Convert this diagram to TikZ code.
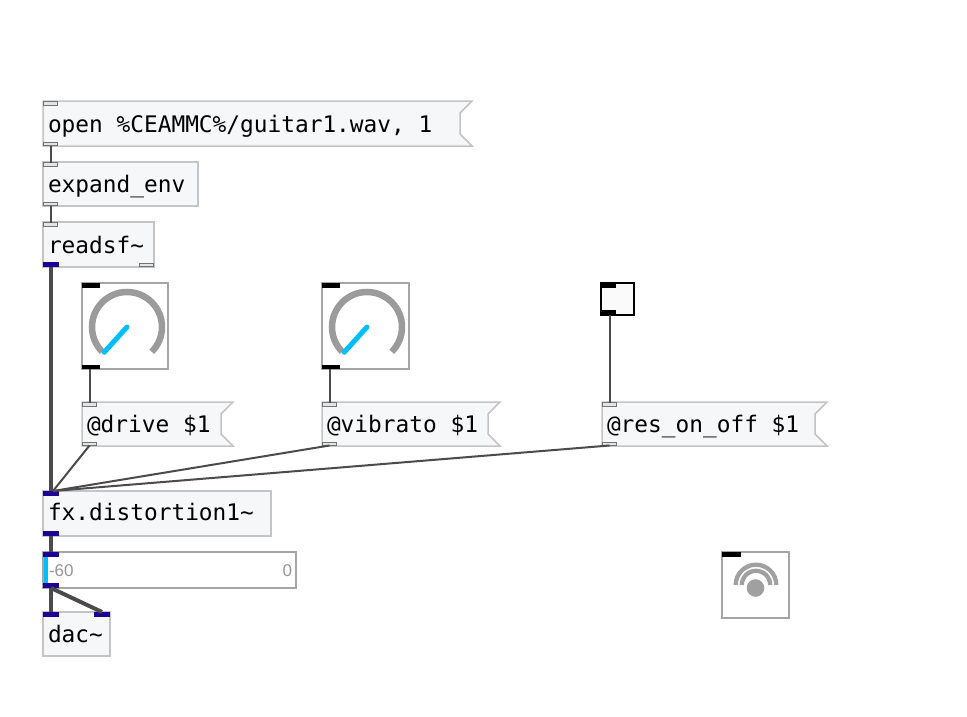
\documentclass[tikz,border=0pt]{standalone}
\usepackage{fontspec}
\newfontfamily\pdmono{DejaVu Sans Mono}
\newfontfamily\pdsans{Liberation Sans}
\definecolor{pdfill}{RGB}{246,247,249}
\definecolor{pdborder}{RGB}{196,196,196}
\definecolor{inletgrey}{RGB}{115,115,115}
\definecolor{inletfill}{RGB}{228,228,228}
\definecolor{sigblue}{RGB}{30,0,150}
\definecolor{wiregrey}{RGB}{75,75,75}
\definecolor{knobgrey}{RGB}{155,155,155}
\definecolor{uiborder}{RGB}{165,165,165}
\definecolor{pdcyan}{RGB}{0,190,250}
\definecolor{lblgrey}{RGB}{150,150,150}
\definecolor{dspgrey}{RGB}{160,160,160}
\begin{document}
\begin{tikzpicture}[x=1pt,y=-1pt,
  box/.style={draw=pdborder, fill=pdfill, line width=1.5pt, rectangle, inner sep=0pt, outer sep=0pt, anchor=north west},
  msgframe/.style={rectangle, inner sep=0pt, outer sep=0pt, anchor=north west},
  msgshape/.style={draw=pdborder, fill=pdfill, line width=1.5pt, line join=miter},
  uibox/.style={draw=uiborder, fill=white, line width=1.5pt, rectangle, inner sep=0pt, outer sep=0pt, anchor=north west},
  txt/.style={font=\pdmono\fontsize{22.8}{27}\selectfont, inner sep=0pt, outer sep=0pt, anchor=base west, text=black},
  lbl/.style={font=\pdsans\fontsize{17}{20}\selectfont, inner sep=0pt, outer sep=0pt, text=lblgrey},
  cin/.style={rectangle, draw=inletgrey, fill=inletfill, line width=1pt, minimum width=14pt, minimum height=3.5pt, inner sep=0pt, outer sep=0pt},
  sin/.style={rectangle, fill=sigblue, minimum width=16pt, minimum height=5pt, inner sep=0pt, outer sep=0pt},
  kin/.style={rectangle, fill=black, minimum width=18pt, minimum height=4.5pt, inner sep=0pt, outer sep=0pt},
  wire/.style={draw=wiregrey, line width=2pt},
  sigwire/.style={draw=wiregrey, line width=4pt},
  knobarc/.style={draw=knobgrey, line width=6.5pt},
  pointer/.style={draw=pdcyan, line width=5pt, line cap=round}
]
\useasboundingbox[fill=white] (0,0) rectangle (967,717);

% ---------- message: open ----------
\node[msgframe, minimum width=429pt, minimum height=45pt] (mopen) at (43,101) {};
\draw[msgshape] (mopen.north west) -- (mopen.north east) -- ([xshift=-12pt,yshift=-12pt]mopen.north east) -- ([xshift=-12pt,yshift=12pt]mopen.south east) -- (mopen.south east) -- (mopen.south west) -- cycle;
\node[txt] (topen) at (48,132) {open \%CEAMMC\%/guitar1.wav, 1};
\node[cin, anchor=north west] (mopenin) at (43.5,101.5) {};
\node[cin, anchor=south west] (mopenout) at (43.5,145.5) {};

% ---------- expand_env ----------
\node[box, minimum width=155pt, minimum height=44pt] (oexp) at (43,162) {};
\node[txt] (texp) at (48,192) {expand\_env};
\node[cin, anchor=north west] (oexpin) at (43.5,162.5) {};
\node[cin, anchor=south west] (oexpout) at (43.5,205.5) {};

% ---------- readsf~ ----------
\node[box, minimum width=111pt, minimum height=45pt] (oread) at (43,222) {};
\node[txt] (tread) at (48,253) {readsf\textasciitilde};
\node[cin, anchor=north west] (oreadin) at (43.5,222.5) {};
\node[sin, anchor=south west] (oreadout) at (43,267) {};
\node[cin, anchor=south east] (oreadout2) at (153.5,266.5) {};

% ---------- knobs ----------
\node[uibox, minimum width=86pt, minimum height=86pt] (knobA) at (82,283) {};
\coordinate (kAc) at (127,327);
\draw[knobarc] (kAc) ++(225:35pt) arc[start angle=225, end angle=-45, radius=35pt];
\draw[pointer] (kAc) -- ++(228:34pt);
\node[kin, anchor=north west] (knobAin) at (82,283) {};
\node[kin, anchor=south west] (knobAout) at (82,369) {};

\node[uibox, minimum width=87pt, minimum height=86pt] (knobB) at (322,283) {};
\coordinate (kBc) at (367,327);
\draw[knobarc] (kBc) ++(225:35pt) arc[start angle=225, end angle=-45, radius=35pt];
\draw[pointer] (kBc) -- ++(228:34pt);
\node[kin, anchor=north west] (knobBin) at (322,283) {};
\node[kin, anchor=south west] (knobBout) at (322,369) {};

% ---------- toggle ----------
\node[rectangle, draw=black, fill={rgb,255:red,250;green,250;blue,250}, line width=2pt, inner sep=0pt, outer sep=0pt, anchor=north west, minimum width=33pt, minimum height=32pt] (tog) at (601,283) {};
\node[kin, minimum width=15pt, anchor=north west] (togin) at (601,283) {};
\node[kin, minimum width=15pt, minimum height=5pt, anchor=south west] (togout) at (601,315) {};

% ---------- messages with $1 ----------
\node[msgframe, minimum width=151pt, minimum height=44pt] (mdrive) at (82,402) {};
\draw[msgshape] (mdrive.north west) -- (mdrive.north east) -- ([xshift=-12pt,yshift=-12pt]mdrive.north east) -- ([xshift=-12pt,yshift=12pt]mdrive.south east) -- (mdrive.south east) -- (mdrive.south west) -- cycle;
\node[txt] (tdrive) at (87,432) {@drive \$1};
\node[cin, anchor=north west] (mdrivein) at (82.5,402.5) {};
\node[cin, anchor=south west] (mdriveout) at (82.5,445.5) {};

\node[msgframe, minimum width=178pt, minimum height=44pt] (mvib) at (322,402) {};
\draw[msgshape] (mvib.north west) -- (mvib.north east) -- ([xshift=-12pt,yshift=-12pt]mvib.north east) -- ([xshift=-12pt,yshift=12pt]mvib.south east) -- (mvib.south east) -- (mvib.south west) -- cycle;
\node[txt] (tvib) at (327,432) {@vibrato \$1};
\node[cin, anchor=north west] (mvibin) at (322.5,402.5) {};
\node[cin, anchor=south west] (mvibout) at (322.5,445.5) {};

\node[msgframe, minimum width=225pt, minimum height=44pt] (mres) at (602,402) {};
\draw[msgshape] (mres.north west) -- (mres.north east) -- ([xshift=-12pt,yshift=-12pt]mres.north east) -- ([xshift=-12pt,yshift=12pt]mres.south east) -- (mres.south east) -- (mres.south west) -- cycle;
\node[txt] (tres) at (607,432) {@res\_on\_off \$1};
\node[cin, anchor=north west] (mresin) at (602.5,402.5) {};
\node[cin, anchor=south west] (mresout) at (602.5,445.5) {};

% ---------- fx.distortion1~ ----------
\node[box, minimum width=228pt, minimum height=45pt] (ofx) at (43,491) {};
\node[txt] (tfx) at (48,520) {fx.distortion1\textasciitilde};
\node[sin, anchor=north west] (ofxin) at (43,491) {};
\node[sin, anchor=south west] (ofxout) at (43,536) {};

% ---------- gain ----------
\node[uibox, minimum width=253pt, minimum height=36pt] (gain) at (43,552) {};
\fill[pdcyan] (43.8,557) rectangle (48,583);
\node[lbl, anchor=base west] (gmin) at (49,576) {-60};
\node[lbl, anchor=base east] (gmax) at (292,576) {0};
\node[sin, anchor=north west] (gainin) at (43,552) {};
\node[sin, anchor=south west] (gainout) at (43,588) {};

% ---------- dac~ ----------
\node[box, minimum width=67pt, minimum height=44pt] (odac) at (43,612) {};
\node[txt] (tdac) at (48,642) {dac\textasciitilde};
\node[sin, anchor=north west] (odacinL) at (43,612) {};
\node[sin, anchor=north east] (odacinR) at (110,612) {};

% ---------- dsp ----------
\node[uibox, minimum width=67pt, minimum height=66pt] (dsp) at (722,552) {};
\node[kin, minimum width=19pt, minimum height=5pt, anchor=north west] (dspin) at (722,552) {};
\coordinate (dspc) at (756,585);
\draw[draw=dspgrey, line width=4.3pt] (dspc) ++(0:20.3pt) arc[start angle=0, end angle=180, radius=20.3pt];
\draw[draw=dspgrey, line width=4.3pt] (dspc) ++(0:14.2pt) arc[start angle=0, end angle=180, radius=14.2pt];
\fill[dspgrey] (755.5,588) circle[radius=8.8pt];

% ---------- connections ----------
\draw[wire] (mopenout.south) -- (oexpin.north);
\draw[wire] (oexpout.south) -- (oreadin.north);
\draw[sigwire] (oreadout.south) -- (ofxin.north);
\draw[wire] (mdrivein.north |- knobAout.south) -- (mdrivein.north);
\draw[wire] (mvibin.north |- knobBout.south) -- (mvibin.north);
\draw[wire] (mresin.north |- togout.south) -- (mresin.north);
\draw[wire] (mdriveout.south) -- ([xshift=2pt]ofxin.north);
\draw[wire] (mvibout.south) -- ([xshift=2pt]ofxin.north);
\draw[wire] (mresout.south) -- ([xshift=2pt]ofxin.north);
\draw[sigwire] (ofxout.south) -- (gainin.north);
\draw[sigwire] (gainout.south) -- (odacinL.north);
\draw[sigwire] (gainout.south) -- (odacinR.north);
\end{tikzpicture}
\end{document}
